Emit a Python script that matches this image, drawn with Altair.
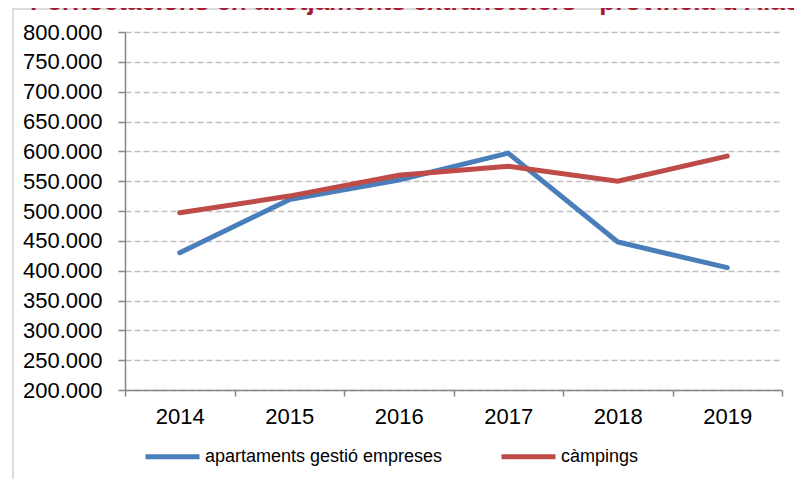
import altair as alt
import pandas as pd

years = ["2014", "2015", "2016", "2017", "2018", "2019"]
apartaments = [430000, 519000, 552000, 597000, 448000, 405000]
campings = [497000, 525000, 560000, 575000, 550000, 592000]
series_names = ["apartaments gestió empreses", "càmpings"]
series_colors = ["#4A7EBB", "#BE4B48"]
y_ticks = list(range(200000, 800001, 50000))
title_text = "Pernoctacions en allotjaments extrahotelers - província d'Alacant"

df = pd.DataFrame({
    "year": years + years,
    "value": apartaments + campings,
    "series": [series_names[0]] * len(years) + [series_names[1]] * len(years),
})

W, H = 657, 358

lines = alt.Chart(df).mark_line(strokeWidth=5, strokeCap="round", strokeJoin="miter").encode(
    x=alt.X("year:O", bandPosition=0.5,
            scale=alt.Scale(type="band", paddingInner=0, paddingOuter=0),
            axis=alt.Axis(title=None, labelAngle=0, tickBand="extent", labelFontSize=22,
                          labelFont="Liberation Sans", labelColor="#000000",
                          domainColor="#868686", domainWidth=1.5, tickColor="#868686",
                          tickWidth=1.5, tickSize=6, labelPadding=10, grid=False)),
    y=alt.Y("value:Q", scale=alt.Scale(domain=[200000, 800000], nice=False, zero=False),
            axis=alt.Axis(title=None, values=y_ticks, format=",d", labelFontSize=22,
                          labelFont="Liberation Sans", labelColor="#000000",
                          domainColor="#868686", domainWidth=1.5, tickColor="#868686",
                          tickWidth=1.5, tickSize=7, labelPadding=16,
                          grid=True, gridColor="#BFBFBF", gridDash=[6, 3], gridWidth=1.5)),
    color=alt.Color("series:N",
                    scale=alt.Scale(domain=series_names, range=series_colors),
                    legend=alt.Legend(title=None, orient="none", direction="horizontal",
                                      legendX=18, legendY=395, symbolType="stroke",
                                      symbolSize=2916, symbolStrokeWidth=5,
                                      labelFontSize=18, labelFont="Liberation Sans",
                                      labelColor="#000000", labelOffset=3,
                                      columnPadding=48, labelLimit=400)),
)

border = alt.Chart(pd.DataFrame({"k": [0]})).mark_rect(
    fill=None, stroke="#D0D0D0", strokeWidth=1.5
).encode(
    x=alt.value(-112), x2=alt.value(W + 60), y=alt.value(-23), y2=alt.value(H + 150)
)

title = alt.Chart(pd.DataFrame({"t": [title_text]})).mark_text(
    align="left", baseline="alphabetic", fontSize=26, fontWeight="bold",
    font="Liberation Sans", color="#A31A32"
).encode(text="t:N", x=alt.value(-95), y=alt.value(-22.5))

chart = alt.layer(border, lines, title).properties(
    width=W, height=H,
    padding={"left": 117, "top": 24, "right": 12, "bottom": 89},
    autosize=alt.AutoSizeParams(type="none"),
).configure(
    locale={"number": {"decimal": ",", "thousands": ".", "grouping": [3], "currency": ["", " €"]}}
).configure_view(stroke=None)

chart.save("out.html", embed_options={"renderer": "svg", "actions": False})
